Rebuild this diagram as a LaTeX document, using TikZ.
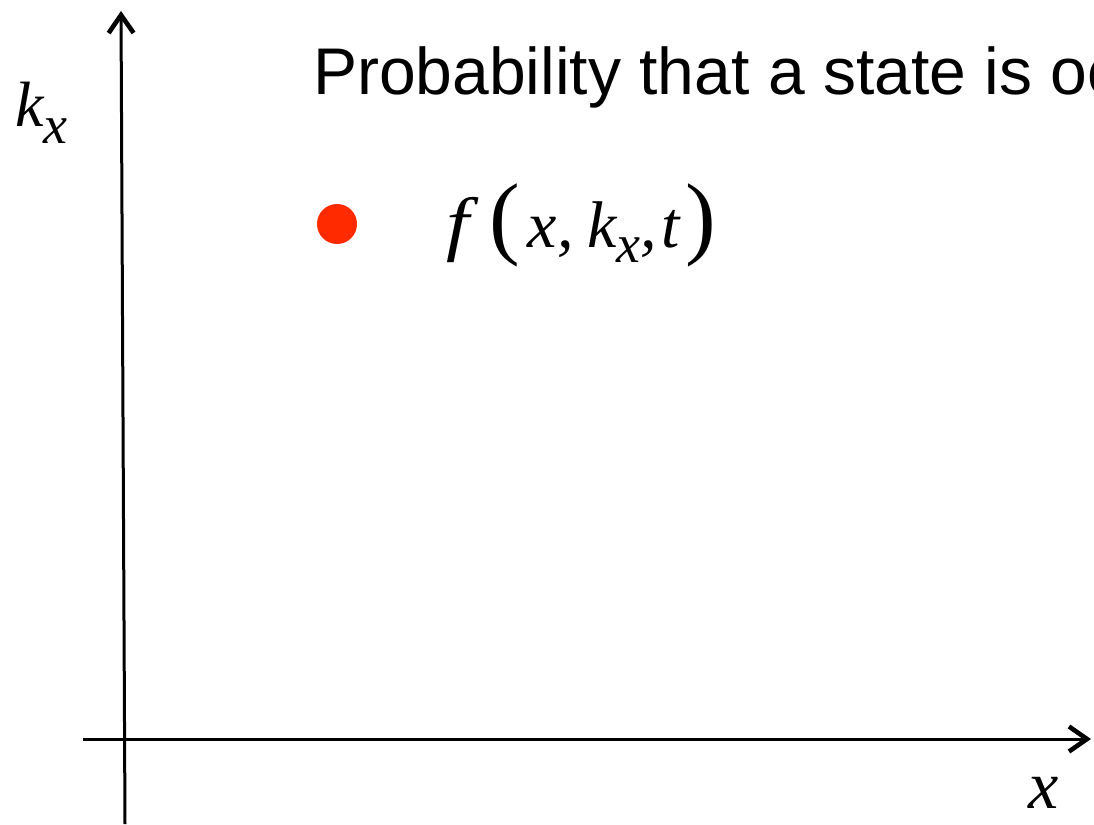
\documentclass[tikz,border=0pt]{standalone}
\usepackage{fontspec}
\setmainfont{Liberation Sans}
\newfontfamily\tms{Liberation Serif}
\usepackage{xcolor}
\usetikzlibrary{arrows.meta}
\definecolor{dotred}{RGB}{255,42,0}

\newcommand{\subx}[1]{\raisebox{-#1}{\fontsize{54}{54}\selectfont\itshape x}}
\newcommand{\bigparen}[1]{{\upshape\fontsize{92}{92}\selectfont #1}}

\begin{document}
\begin{tikzpicture}[x=1pt, y=-1pt,
  axis/.style={line width=3pt, -{Straight Barb[length=18pt, width=25pt, line width=4.6pt]}},
  lbl/.style={anchor=base west, inner sep=0pt},
  var/.style={lbl, font=\tms\itshape\fontsize{64}{64}\selectfont}
]
  \useasboundingbox (0,0) rectangle (1094,824);
  \clip (0,0) rectangle (1094,824);

  % Axes
  \coordinate (ybot) at (125,824);
  \coordinate (ytop) at (121,11);
  \coordinate (xleft) at (83,739);
  \coordinate (xright) at (1091,739);
  \draw[axis] (ybot) -- (ytop);
  \draw[axis] (xleft) -- (xright);

  % Labels
  \node[var] (kx) at (15,127) {k\subx{17pt}};
  \node[var, font=\tms\itshape\fontsize{68}{68}\selectfont] (xl) at (1028,808) {x};
  \node[lbl, font=\fontsize{66}{66}\selectfont] (title) at (313,95) {Probability that a state is oc};

  % State
  \node[circle, fill=dotred, inner sep=0pt, minimum size=40pt] (dot) at (337,224) {};
  \node[var, font=\tms\itshape\fontsize{66}{66}\selectfont] (fx) at (446,247)
    {\scalebox{1.25}[1.08]{f}\hspace{20pt}\bigparen{(}\hspace{8pt}x,\hspace{14pt}k\subx{15pt},\hspace{4pt}t\hspace{6pt}\bigparen{)}};
\end{tikzpicture}
\end{document}
